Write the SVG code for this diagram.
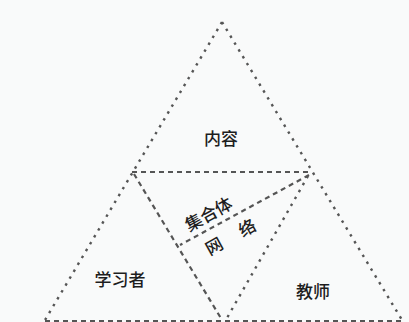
<svg xmlns="http://www.w3.org/2000/svg" width="409" height="322" viewBox="0 0 409 322">
<style>
.outer{stroke:#555;stroke-width:2.4;stroke-dasharray:2.5 5.5;fill:none}
.inner{stroke:#555;stroke-width:2.2;stroke-dasharray:5 4;fill:none}
.lbl{font-family:"Noto Sans CJK SC","Noto Sans",sans-serif;font-size:17px;font-weight:500;fill:#1e1e1e;text-anchor:middle;dominant-baseline:central}
</style>
<rect width="409" height="322" fill="#f9fafa"/>
<g id="connectors">
<line class="outer" x1="222" y1="22" x2="45" y2="320"/>
<line class="outer" x1="222" y1="22" x2="402" y2="320"/>
<line class="inner" x1="45" y1="321" x2="402" y2="321"/>
<line class="inner" x1="132" y1="172" x2="311" y2="172"/>
<line class="inner" x1="134" y1="174" x2="222" y2="320"/>
<line class="outer" x1="308" y1="176" x2="227" y2="318"/>
<line class="inner" x1="309" y1="175" x2="180" y2="245"/>
</g>
<g id="content"><text class="lbl" x="221" y="137">内容</text></g>
<g id="collective"><text class="lbl" x="208" y="213" transform="rotate(-29 208 213)">集合体</text></g>
<g id="network"><text class="lbl" x="230" y="236" transform="rotate(-29 230 236)">网　 络</text></g>
<g id="learner"><text class="lbl" x="120" y="278">学习者</text></g>
<g id="teacher"><text class="lbl" x="313" y="290">教师</text></g>
</svg>
